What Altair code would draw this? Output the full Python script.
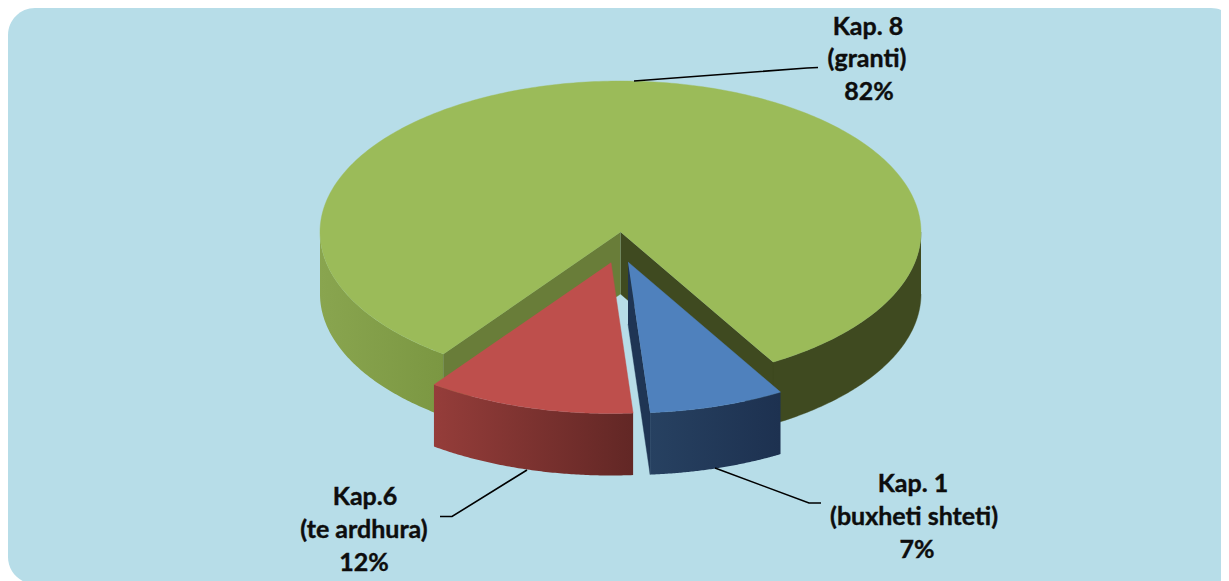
import altair as alt
import numpy as np
import pandas as pd

# --- chart values -----------------------------------------------------------
categories = ["Kap. 8 (granti)", "Kap.6 (te ardhura)", "Kap. 1 (buxheti shteti)"]
shares = [81.5, 11.2, 7.3]          # slice sizes
label_lines = [["Kap. 8", "(granti)", "82%"],
               ["Kap.6", "(te ardhura)", "12%"],
               ["Kap. 1", "(buxheti shteti)", "7%"]]
top_colors = ["#9BBB59", "#BE4F4C", "#4F81BD"]

# --- layout -----------------------------------------------------------------
W, H = 1221, 581                    # right edge of what the page can show, bottom edge
CX, CY, RX, RY, DEPTH = 620.5, 232.0, 300.5, 151.0, 62.0
START = 59.5                        # degrees, clockwise on screen, where blue starts
FONT = "Lato"
PANEL = "#B7DDE8"

x_scale = alt.Scale(domain=[8, W], range=[0, W - 8], nice=False, zero=False)
y_scale = alt.Scale(domain=[H, 8], range=[H - 8, 0], nice=False, zero=False)
X = alt.X("x:Q", scale=x_scale, axis=None)
Y = alt.Y("y:Q", scale=y_scale, axis=None)


def arc(cx, cy, a0, a1, dz=0.0, n=90):
    t = np.radians(np.linspace(a0, a1, n))
    return list(zip(cx + RX * np.cos(t), cy + RY * np.sin(t) + dz))


def grad(c0, c1):
    return alt.Gradient(gradient="linear", x1=0, x2=1, y1=0, y2=0,
                        stops=[alt.GradientStop(offset=0, color=c0),
                               alt.GradientStop(offset=1, color=c1)])


def poly(points, fill):
    df = pd.DataFrame(points, columns=["x", "y"])
    df["i"] = range(len(df))
    return alt.Chart(df).mark_line(fill=fill, stroke=fill if isinstance(fill, str) else "transparent",
                                   strokeWidth=0.4 if isinstance(fill, str) else 0, interpolate="linear").encode(
        x=X, y=Y, order=alt.Order("i:Q"))


def leader(points):
    df = pd.DataFrame(points, columns=["x", "y"])
    df["i"] = range(len(df))
    return alt.Chart(df).mark_line(color="#000000", strokeWidth=1.6).encode(x=X, y=Y, order=alt.Order("i:Q"))


total = sum(shares)
deg = [s / total * 360 for s in shares]
a_blue0 = START
a_blue1 = a_blue0 + deg[2]
a_red1 = a_blue1 + deg[1]

layers = []

# panel
panel_df = pd.DataFrame({"x": [8], "x2": [1238], "y": [8], "y2": [584]})
layers.append(alt.Chart(panel_df).mark_rect(fill=PANEL, cornerRadius=27, clip=True).encode(
    x=X, x2="x2:Q", y=Y, y2="y2:Q"))

# green slice: outer walls, cut walls, top
left_wall = arc(CX, CY, 180, a_red1) + arc(CX, CY, a_red1, 180, DEPTH)
right_wall = arc(CX, CY, 0, a_blue0) + arc(CX, CY, a_blue0, 0, DEPTH)
layers.append(poly(left_wall, grad("#89A54F", "#7B9742")))
layers.append(poly(right_wall, "#3F4A20"))
e_r = arc(CX, CY, a_blue0, a_blue0, n=1)[0]
e_l = arc(CX, CY, a_red1, a_red1, n=1)[0]
layers.append(poly([(CX, CY), e_r, (e_r[0], e_r[1] + DEPTH), (CX, CY + DEPTH)], "#3F4A20"))
layers.append(poly([(CX, CY), e_l, (e_l[0], e_l[1] + DEPTH), (CX, CY + DEPTH)], "#697D39"))
layers.append(poly([(CX, CY)] + arc(CX, CY, a_red1, a_blue0 + 360, n=360), top_colors[0]))

# exploded blue slice
bx, by = CX + 7.5, CY + 30
e0 = arc(bx, by, a_blue1, a_blue1, n=1)[0]
layers.append(poly([(bx, by), e0, (e0[0], e0[1] + DEPTH), (bx, by + DEPTH)], "#1F3554"))
layers.append(poly(arc(bx, by, a_blue0, a_blue1) + arc(bx, by, a_blue1, a_blue0, DEPTH), grad("#274161", "#1D3150")))
layers.append(poly([(bx, by)] + arc(bx, by, a_blue0, a_blue1), top_colors[2]))

# exploded red slice
rx, ry = CX - 9.5, CY + 30.5
layers.append(poly(arc(rx, ry, a_blue1, a_red1) + arc(rx, ry, a_red1, a_blue1, DEPTH), grad("#953D3A", "#622725")))
layers.append(poly([(rx, ry)] + arc(rx, ry, a_blue1, a_red1), top_colors[1]))

# leader lines
layers.append(leader([(634, 81), (807, 68), (818, 67.5)]))
layers.append(leader([(527, 470), (452, 516.5), (440, 516.5)]))
layers.append(leader([(715, 468), (809, 503), (821, 503)]))

# labels
label_pos = [[(868, 27), (867, 59), (869, 92)],
             [(365, 497), (364, 530), (364, 563)],
             [(913, 484), (914, 517), (917, 550)]]
rows = []
for lines, pos in zip(label_lines, label_pos):
    for t, (px, py) in zip(lines, pos):
        rows.append({"x": px, "y": py, "t": t})
layers.append(alt.Chart(pd.DataFrame(rows)).mark_text(
    font=FONT, fontWeight="bold", fontSize=25, color="#0D0D0D", stroke="#0D0D0D", strokeWidth=0.4,
    align="center", baseline="middle"
).encode(x=X, y=Y, text="t:N"))

chart = alt.layer(*layers).properties(
    width=W - 8, height=H - 8,
    autosize=alt.AutoSizeParams(type="none"), padding=0, background="#FFFFFF"
).configure_view(stroke=None)

chart.save("out.html", embed_options={"renderer": "svg", "actions": False})
